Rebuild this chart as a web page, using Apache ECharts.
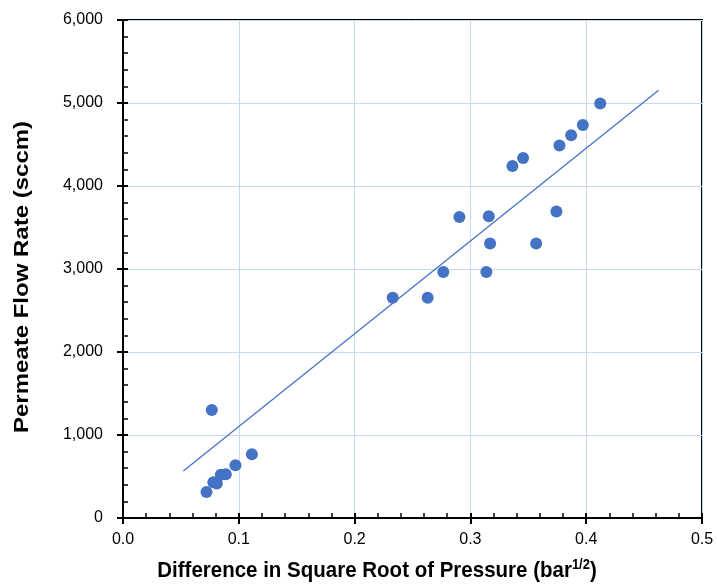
<!DOCTYPE html>
<html>
<head>
<meta charset="utf-8">
<script src="https://cdn.jsdelivr.net/npm/echarts@6/dist/echarts.min.js"></script>
<style>
html,body{margin:0;padding:0;background:#fff;}
#c{width:717px;height:587px;}
</style>
</head>
<body>
<div id="c"></div>
<script>
// Measured data
var xValues = [0.0721, 0.0767, 0.078, 0.081, 0.0845, 0.0888, 0.0971, 0.1113, 0.2329, 0.2631, 0.2766, 0.3138, 0.2905, 0.3159, 0.3170, 0.3568, 0.3743, 0.3363, 0.3455, 0.3769, 0.3870, 0.3971, 0.4121];
var yValues = [313, 1301, 430, 415, 521, 527, 635, 767, 2655, 2655, 2964, 2964, 3627, 3635, 3306, 3306, 3692, 4241, 4337, 4487, 4611, 4735, 4993];
var trendX = [0.0521, 0.4625];
var trendY = [566, 5153];
var xTickLabels = ['0.0', '0.1', '0.2', '0.3', '0.4', '0.5'];
var yTickLabels = ['0', '1,000', '2,000', '3,000', '4,000', '5,000', '6,000'];
var xTitle = 'Difference in Square Root of Pressure (bar';
var xTitleSup = '1/2';
var yTitle = 'Permeate Flow Rate (sccm)';

var FONT = '"Liberation Sans", Arial, sans-serif';
var points = xValues.map(function (x, i) { return [x, yValues[i]]; });
var trend = trendX.map(function (x, i) { return [x, trendY[i]]; });

var chart = echarts.init(document.getElementById('c'), null, {renderer: 'canvas'});
var axisLine = {show: true, onZero: false, lineStyle: {color: '#000', width: 2}};
chart.setOption({
  animation: false,
  backgroundColor: '#fff',
  grid: {left: 123, top: 20, width: 579, height: 498, show: true, borderColor: '#000', borderWidth: 2, backgroundColor: 'transparent'},
  xAxis: [{
    type: 'value', min: 0, max: 0.5, interval: 0.1,
    axisLine: axisLine,
    axisTick: {show: true, inside: true, length: 5, lineStyle: {color: '#000', width: 2}},
    minorTick: {show: true, splitNumber: 5, length: 5, lineStyle: {color: '#000', width: 1.5}},
    splitLine: {show: true, lineStyle: {color: '#C5DAF0', width: 1}},
    axisLabel: {fontFamily: FONT, fontSize: 16, color: '#000', margin: 14,
      formatter: function (v) { return xTickLabels[Math.round(v / 0.1)]; }}
  }, {
    type: 'value', min: 0, max: 0.5, interval: 0.1, position: 'bottom', gridIndex: 0,
    axisLine: {show: false},
    axisTick: {show: true, inside: false, length: 6, lineStyle: {color: '#000', width: 2}},
    axisLabel: {show: false}, splitLine: {show: false}
  }],
  yAxis: [{
    type: 'value', min: 0, max: 6000, interval: 1000,
    axisLine: axisLine,
    axisTick: {show: true, inside: true, length: 5, lineStyle: {color: '#000', width: 2}},
    minorTick: {show: true, splitNumber: 5, length: 5, lineStyle: {color: '#000', width: 1.5}},
    splitLine: {show: true, lineStyle: {color: '#C5DAF0', width: 1}},
    axisLabel: {fontFamily: FONT, fontSize: 16, color: '#000', margin: 20,
      formatter: function (v) { return yTickLabels[Math.round(v / 1000)]; }}
  }, {
    type: 'value', min: 0, max: 6000, interval: 1000, position: 'left', gridIndex: 0,
    axisLine: {show: false},
    axisTick: {show: true, inside: false, length: 6, lineStyle: {color: '#000', width: 2}},
    axisLabel: {show: false}, splitLine: {show: false}
  }],
  series: [{
    type: 'line', data: trend, showSymbol: false, symbol: 'none',
    lineStyle: {color: '#4472C4', width: 1.3}, z: 2, silent: true
  }, {
    type: 'scatter', data: points, symbol: 'circle', symbolSize: 12,
    itemStyle: {color: '#4472C4', opacity: 1}, z: 3
  }],
  graphic: [{
    type: 'text', x: 377, y: 571, scaleY: 1.07,
    style: {
      text: '{a|' + xTitle + '}{s|' + xTitleSup + '}{a|)}',
      align: 'center', verticalAlign: 'middle',
      rich: {
        a: {fontFamily: FONT, fontSize: 20.5, fontWeight: 'bold', fill: '#000', color: '#000'},
        s: {fontFamily: FONT, fontSize: 13, fontWeight: 'bold', fill: '#000', color: '#000', padding: [0, 0, 10, 0]}
      }
    }
  }, {
    type: 'text', x: 22, y: 277, rotation: Math.PI / 2, scaleX: 1.2,
    style: {
      text: yTitle, align: 'center', verticalAlign: 'middle',
      fontFamily: FONT, fontSize: 20, fontWeight: 'bold', fill: '#000'
    }
  }]
});
</script>
</body>
</html>
